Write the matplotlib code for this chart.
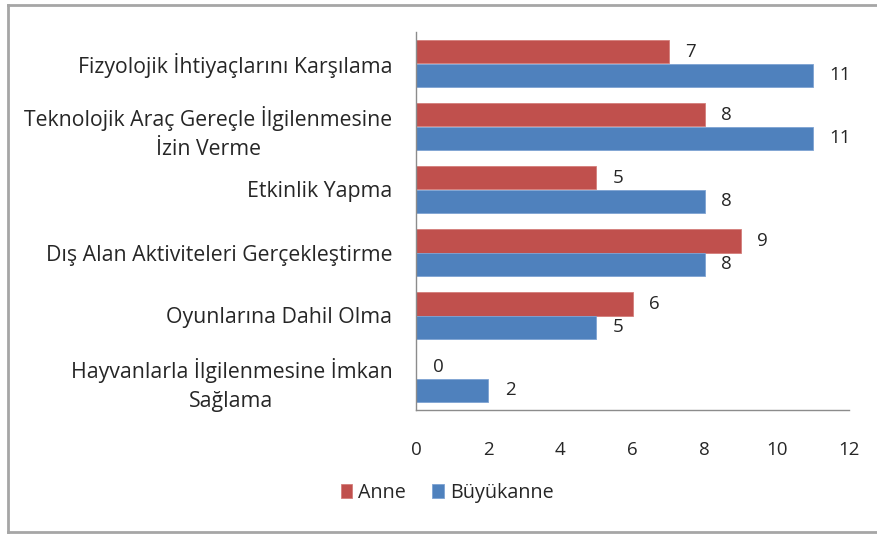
import numpy as np
import matplotlib.pyplot as plt
from matplotlib.lines import Line2D

plt.rcParams['font.family'] = ['Open Sans', 'DejaVu Sans']

categories = [
    "Fizyolojik İhtiyaçlarını Karşılama",
    "Teknolojik Araç Gereçle İlgilenmesine\nİzin Verme",
    "Etkinlik Yapma",
    "Dış Alan Aktiviteleri Gerçekleştirme",
    "Oyunlarına Dahil Olma",
    "Hayvanlarla İlgilenmesine İmkan\nSağlama",
]
anne = [7, 8, 5, 9, 6, 0]
buyukanne = [11, 11, 8, 8, 5, 2]
xticks = [0, 2, 4, 6, 8, 10, 12]

RED = '#C0504D'
BLUE = '#4F81BD'
TXT = '#262626'
FS = 13.5

fig = plt.figure(figsize=(8.77, 5.34), dpi=100)
ax = fig.add_axes([416 / 877, 1 - 410 / 534, (849 - 416) / 877, (410 - 32) / 534])

y = np.arange(len(categories))
h = 0.373
b1 = ax.barh(y - h / 2, anne, height=h, color=RED, edgecolor='#D47E7B', linewidth=0.6, label='Anne')
b2 = ax.barh(y + h / 2, buyukanne, height=h, color=BLUE, edgecolor='#7EA3D3', linewidth=0.6, label='Büyükanne')

for bars in (b1, b2):
    ax.bar_label(bars, padding=12, fontsize=FS, color=TXT)

ax.set_ylim(len(categories) - 0.5, -0.5)
ax.set_xlim(0, 12)
ax.set_xticks(xticks)
ax.set_yticks(y)
ax.set_yticklabels(categories, multialignment='center', linespacing=1.5)
ax.tick_params(axis='x', length=0, pad=22, labelsize=FS, colors=TXT)
ax.tick_params(axis='y', length=0, pad=17, labelsize=15.3, colors=TXT)

for s in ('top', 'right'):
    ax.spines[s].set_visible(False)
for s in ('left', 'bottom'):
    ax.spines[s].set_color('#8C8C8C')
    ax.spines[s].set_linewidth(1.0)

fig.legend(loc='center', bbox_to_anchor=(447 / 877, 1 - 493 / 534), ncol=2,
           frameon=False, fontsize=14.2, handlelength=0.6, handleheight=0.7,
           handletextpad=0.3, columnspacing=1.3, labelcolor=TXT)

# chart-area border (top, left, bottom)
for xs, ys in (([8, 877], [5, 5]), ([8, 8], [5, 532]), ([8, 877], [532, 532])):
    fig.add_artist(Line2D([v / 877 for v in xs], [1 - v / 534 for v in ys],
                          transform=fig.transFigure, color='#A6A6A6', linewidth=2))

fig.savefig('out.png', dpi=100)
